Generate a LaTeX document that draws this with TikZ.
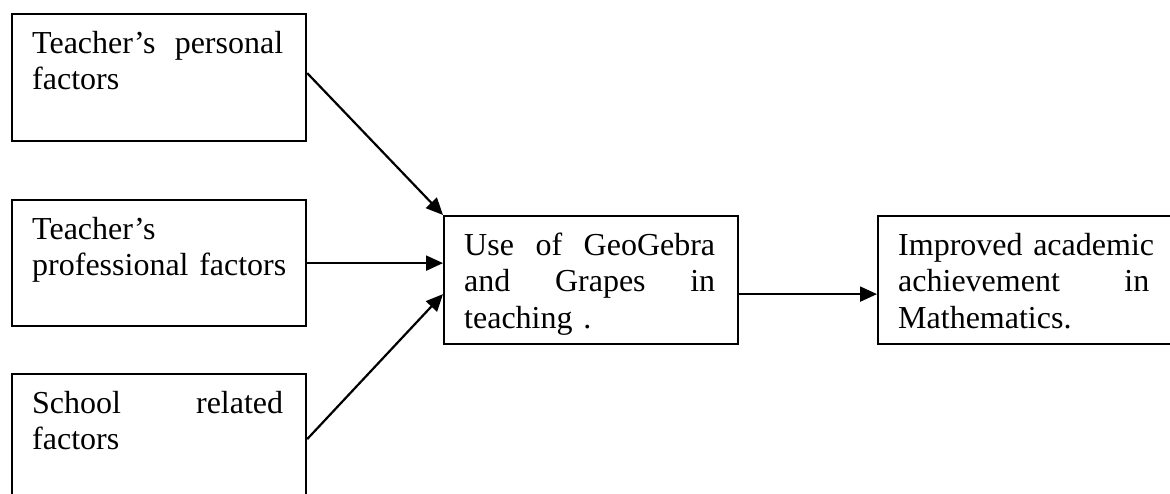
\documentclass[tikz,border=0pt]{standalone}
\usepackage{fontspec}
\setmainfont{Liberation Serif}
\usetikzlibrary{arrows.meta}
\newcommand{\jline}[1]{\leavevmode\hbox to 251pt{#1}}
\begin{document}
\begin{tikzpicture}[x=1pt,y=-1pt,
  box/.style={draw, line width=2.2pt, rectangle, inner sep=0pt, anchor=north west},
  txt/.style={anchor=base west, text width=330pt, align=left, inner sep=0pt, font=\fontsize{32}{36.5}\selectfont},
  arr/.style={-{Triangle[length=17pt,width=15pt]}, line width=2.2pt}]
\useasboundingbox (0,0) rectangle (1170,493);
\clip (0,0) rectangle (1170,493);
% boxes
\node[box, minimum width=294pt, minimum height=127pt] (b1) at (11,13) {};
\node[box, minimum width=294pt, minimum height=126pt] (b2) at (11,199) {};
\node[box, minimum width=294pt, minimum height=130pt] (b3) at (11,373) {};
\node[box, minimum width=294pt, minimum height=128pt] (mid) at (443,215) {};
\node[box, minimum width=303pt, minimum height=128pt] (res) at (877,215) {};
% texts
\node[txt] (t1) at (32,53) {\jline{Teacher’s\hfill personal}\\factors};
\node[txt] (t2) at (32,239) {Teacher’s\\professional factors};
\node[txt] (t3) at (32,413) {\jline{School\hfill related}\\factors};
\node[txt] (t4) at (464,255) {\jline{Use\hfill of\hfill GeoGebra}\\\jline{and\hfill Grapes\hfill in}\\teaching .};
\node[txt] (t5) at (898,255) {Improved academic\\\jline{achievement\hfill in}\\Mathematics.};
% connectors
\draw[arr] ([yshift=4.5pt]b1.east) -- (mid.north west);
\draw[arr] (b2.east) -- (b2.east -| mid.west);
\draw[arr] (b3.east) -- ([yshift=-14pt]mid.west);
\draw[arr] ([yshift=-14pt]mid.east) -- ([yshift=-14pt]mid.east -| res.west);
\end{tikzpicture}
\end{document}
